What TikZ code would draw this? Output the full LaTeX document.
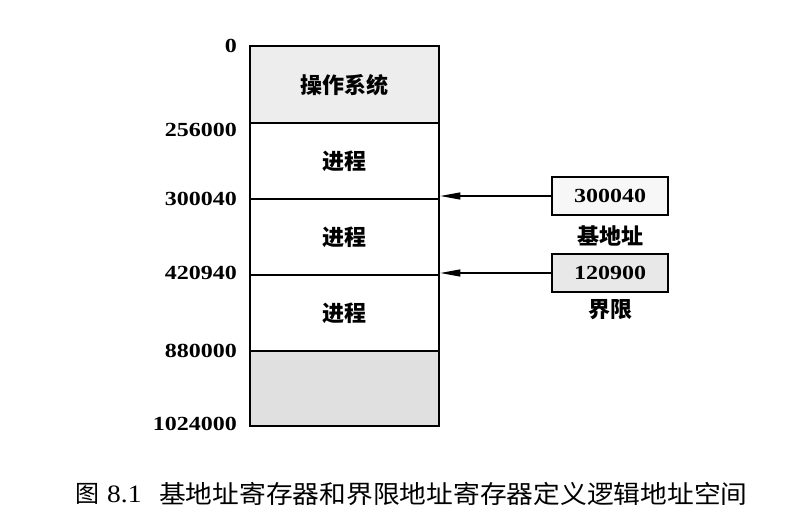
\documentclass[tikz,border=0pt]{standalone}
\usepackage{fontspec}
\setmainfont{Liberation Serif}
\newfontfamily\cjk{Noto Sans CJK SC}
\usetikzlibrary{arrows.meta}
\newcommand{\wnum}[1]{\scalebox{1.2}[1]{#1}}
\begin{document}
\begin{tikzpicture}[x=1pt,y=-1pt,
  num/.style={font=\bfseries\fontsize{20}{20}\selectfont, anchor=east, inner sep=0pt},
  seg/.style={draw, line width=2.3pt, minimum width=189pt, inner sep=0pt, anchor=north west,
              font=\cjk\bfseries\fontsize{22}{22}\selectfont},
  reg/.style={draw, line width=2.6pt, minimum width=116pt, minimum height=38pt, inner sep=0pt,
              font=\bfseries\fontsize{20}{20}\selectfont},
  cjklabel/.style={font=\cjk\bfseries\fontsize{22}{22}\selectfont, inner sep=0pt},
  arr/.style={line width=1.2pt, -{Triangle[length=20pt,width=7pt]}}]
\useasboundingbox (0,0) rectangle (788,526);
% memory segments
\node[seg, fill=gray!14, minimum height=77pt] (os) at (249,45) {操作系统};
\node[seg, minimum height=76pt] (p1) at (249,122) {进程};
\node[seg, minimum height=76pt] (p2) at (249,198) {进程};
\node[seg, minimum height=76pt] (p3) at (249,274) {进程};
\node[seg, fill=gray!24, minimum height=75pt] (free) at (249,350) {};
% address labels
\node[num] (a0) at (237,46) {\wnum{0}};
\node[num] (a1) at (237,130) {\wnum{256000}};
\node[num] (a2) at (237,199) {\wnum{300040}};
\node[num] (a3) at (237,273) {\wnum{420940}};
\node[num] (a4) at (237,351) {\wnum{880000}};
\node[num] (a5) at (237,424) {\wnum{1024000}};
% registers
\node[reg, fill=gray!6] (base) at (610,196) {\wnum{300040}};
\node[cjklabel] (baselab) at (610,236) {基地址};
\node[reg, fill=gray!18] (lim) at (610,273) {\wnum{120900}};
\node[cjklabel] (limlab) at (610,310) {界限};
% arrows
\draw[arr] (base.west) -- (base.west -| p1.east);
\draw[arr] (lim.west) -- (lim.west -| p2.east);
% caption
\node[anchor=west, inner sep=0pt] (capnum) at (75,494) {{\cjk\fontsize{24}{24}\selectfont 图}\hspace{8pt}{\fontsize{25}{25}\selectfont\scalebox{1.1}[1]{8.1}}};
\node[anchor=west, inner sep=0pt, font=\cjk\fontsize{25}{25}\selectfont] (cap) at (159,494) {\scalebox{1.07}[1]{基地址寄存器和界限地址寄存器定义逻辑地址空间}};
\end{tikzpicture}
\end{document}
